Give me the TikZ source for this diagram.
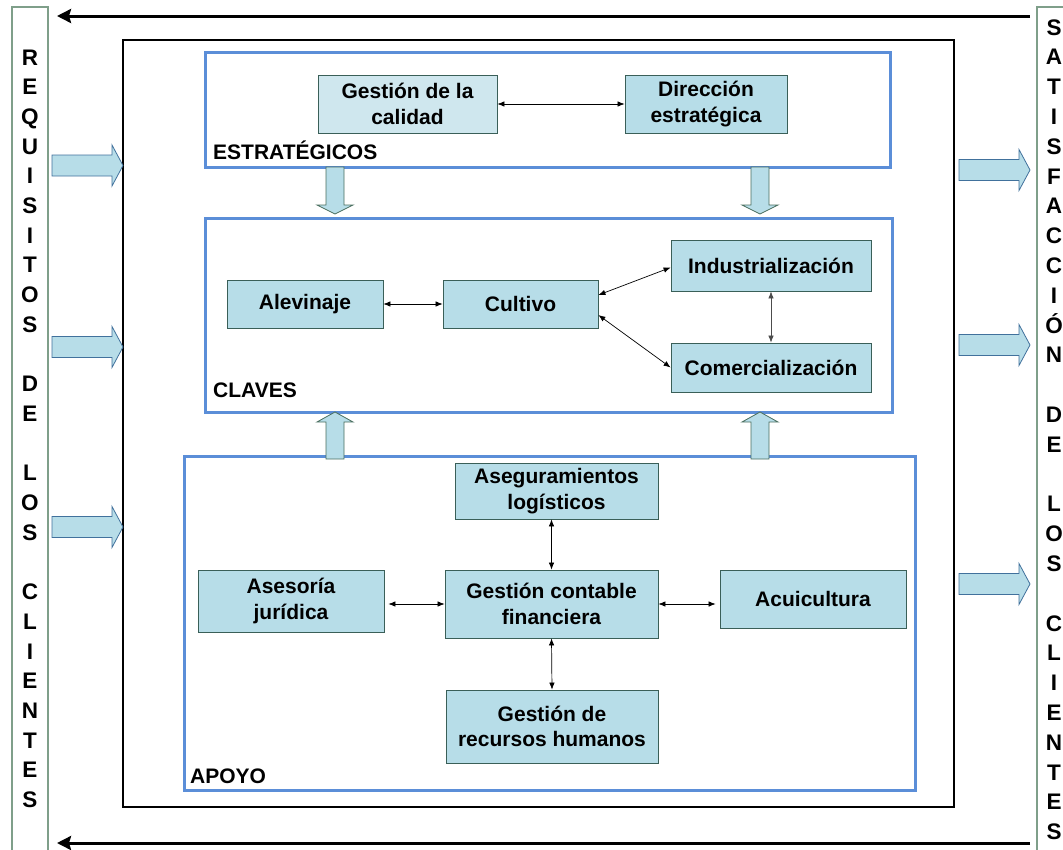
\documentclass[tikz,border=0pt]{standalone}
\usepackage{fontspec}
\setmainfont{Liberation Sans}
\usetikzlibrary{arrows.meta}
\definecolor{boxfill}{HTML}{B7DDE8}
\definecolor{boxfilllight}{HTML}{CFE7EE}
\definecolor{boxline}{HTML}{3A5F58}
\definecolor{groupline}{HTML}{5B8ED8}
\definecolor{barline}{HTML}{7F9F8A}
\definecolor{sideline}{HTML}{41719C}
\definecolor{vertline}{HTML}{4A6E5E}
\begin{document}
\begin{tikzpicture}[x=1pt,y=-1pt,
  procbox/.style={draw=boxline, line width=0.8pt, fill=boxfill, align=center,
    inner sep=0pt, font=\fontsize{21}{25.5}\selectfont\bfseries},
  group/.style={draw=groupline, line width=3pt, inner sep=0pt},
  grouplabel/.style={anchor=west, inner sep=0pt, font=\fontsize{21}{25}\selectfont\bfseries},
  link/.style={line width=0.7pt, {Latex[length=7pt,width=5.5pt]}-{Latex[length=7pt,width=5.5pt]}},
  sidechar/.style={anchor=base, inner sep=0pt, font=\fontsize{22.5}{26}\selectfont\bfseries},
  bar/.style={draw=barline, line width=1.2pt, inner sep=0pt},
  frame/.style={draw=black, line width=2.2pt, inner sep=0pt},
  flow/.style={line width=3pt, -{Stealth[length=14pt,width=14pt,inset=2pt]}},
  sidearrow/.style={draw=sideline, line width=0.8pt, fill=boxfill},
  vertarrow/.style={draw=vertline, line width=0.8pt, fill=boxfill},
  rblock/.pic={\draw[sidearrow] (0,-10.5) -- (60,-10.5) -- (60,-20.5) -- (71,0)
      -- (60,20.5) -- (60,10.5) -- (0,10.5) -- cycle;},
  dblock/.pic={\draw[vertarrow] (-9,0) -- (-9,38) -- (-18,38) -- (0,47)
      -- (18,38) -- (9,38) -- (9,0) -- cycle;},
  ublock/.pic={\draw[vertarrow] (0,0) -- (18,10) -- (9,10) -- (9,47)
      -- (-9,47) -- (-9,10) -- (-18,10) -- cycle;},
]
\useasboundingbox (0,0) rectangle (1063,849);
\clip (0,0) rectangle (1063,849);

% side bars with the vertical captions
\node[bar, minimum width=36, minimum height=860] (lbar) at (30,437) {};
\node[bar, minimum width=40, minimum height=860] (rbar) at (1057,437) {};
\foreach \i/\ch in {0/R,1/E,2/Q,3/U,4/I,5/S,6/I,7/T,8/O,9/S,11/D,12/E,
    14/L,15/O,16/S,18/C,19/L,20/I,21/E,22/N,23/T,24/E,25/S}
  \node[sidechar] (lc\i) at (30,65+29.7*\i) {\ch};
\foreach \i/\ch in {0/S,1/A,2/T,3/I,4/S,5/F,6/A,7/C,8/C,9/I,10/Ó,11/N,13/D,14/E,
    16/L,17/O,18/S,20/C,21/L,22/I,23/E,24/N,25/T,26/E,27/S}
  \node[sidechar] (rc\i) at (1054,35+29.8*\i) {\ch};

% feedback lines along top and bottom
\coordinate (topR) at (1030,16);
\coordinate (topL) at (57,16);
\coordinate (botR) at (1030,843);
\coordinate (botL) at (57,843);
\draw[flow] (topR) -- (topL);
\draw[flow] (botR) -- (botL);

% outer frame
\node[frame, minimum width=831, minimum height=767] (frame) at (538.5,423.5) {};

% inputs and outputs
\pic at (52,165.5) {rblock};
\pic at (52,347) {rblock};
\pic at (52,527) {rblock};
\pic at (959,170) {rblock};
\pic at (959,345) {rblock};
\pic at (959,584) {rblock};

% process groups
\node[group, minimum width=685, minimum height=115] (estr) at (547.5,109.5) {};
\node[group, minimum width=687, minimum height=194] (clav) at (548.5,315) {};
\node[group, minimum width=731, minimum height=334] (apoy) at (549.5,623) {};
\node[grouplabel] (estrlab) at (213,150) {ESTRATÉGICOS};
\node[grouplabel] (clavlab) at (213,390) {CLAVES};
\node[grouplabel] (apoylab) at (190,776) {APOYO};

% arrows between groups
\pic at (335,167) {dblock};
\pic at (760,167) {dblock};
\pic at (335,412) {ublock};
\pic at (760,412) {ublock};

% strategic processes
\node[procbox, fill=boxfilllight, minimum width=179, minimum height=58] (calidad) at (407.5,104) {Gestión de la\\calidad};
\node[procbox, minimum width=162, minimum height=58] (direccion) at (706,104) {Dirección\\estratégica};
\draw[link] (calidad.east) -- (direccion.west);

% key processes
\node[procbox, minimum width=156, minimum height=48] (alevinaje) at (305,304) {Alevinaje};
\node[procbox, minimum width=155, minimum height=48] (cultivo) at (520.5,304) {Cultivo};
\node[procbox, minimum width=200, minimum height=51] (indus) at (771,265.5) {Industrialización};
\node[procbox, minimum width=200, minimum height=49] (comer) at (771,367.5) {Comercialización};
\draw[link] (alevinaje.east) -- (cultivo.west);
\draw[link] ([yshift=9pt]cultivo.east) -- ([yshift=-2pt]indus.west);
\draw[link] ([yshift=-11pt]cultivo.east) -- (comer.west);
\draw[link, draw=black!70, fill=black!70] (indus.south) -- (comer.north);

% support processes
\node[procbox, minimum width=203, minimum height=56] (asegur) at (556.5,491) {Aseguramientos\\logísticos};
\node[procbox, minimum width=186, minimum height=62] (asesoria) at (291,601) {Asesoría\\jurídica};
\node[procbox, minimum width=213, minimum height=68] (contable) at (551.5,604) {Gestión contable\\financiera};
\node[procbox, minimum width=186, minimum height=58] (acui) at (813,599) {Acuicultura};
\node[procbox, minimum width=212, minimum height=73] (rrhh) at (552,726.5) {Gestión de\\recursos humanos};
\draw[link] (contable.north |- asegur.south) -- (contable.north);
\draw[link] ([xshift=4pt]asesoria.east |- contable.west) -- (contable.west);
\draw[link] (contable.east) -- ([xshift=-4pt]acui.west |- contable.east);
\draw[link] (contable.south) -- (rrhh.north);
\end{tikzpicture}
\end{document}
